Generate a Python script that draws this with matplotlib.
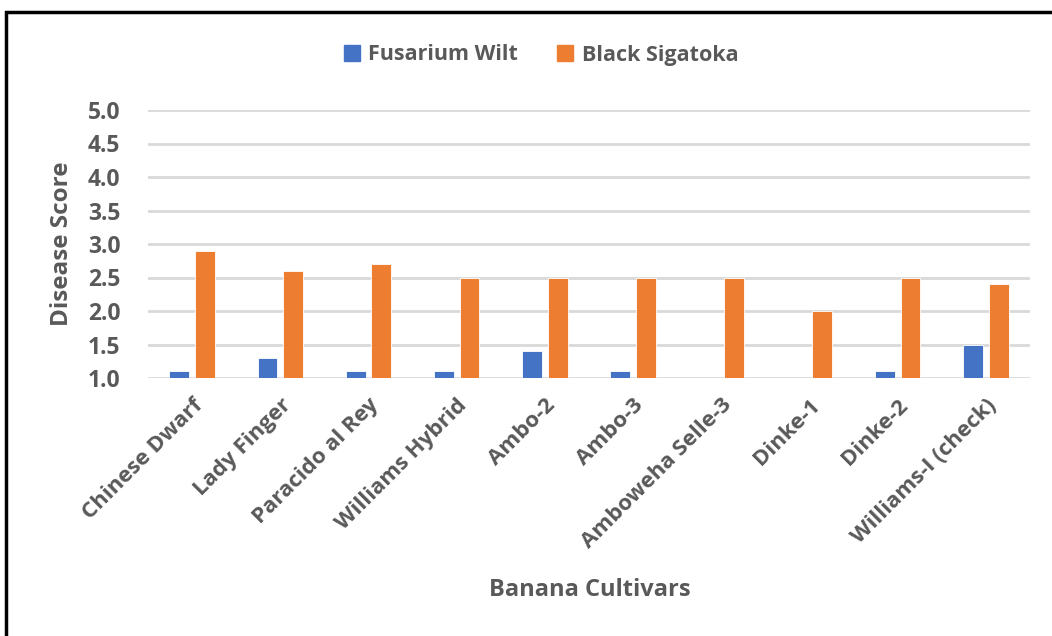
import matplotlib.pyplot as plt
import matplotlib.patches as mpatches
import numpy as np

cultivars = ['Chinese Dwarf', 'Lady Finger', 'Paracido al Rey', 'Williams Hybrid',
             'Ambo-2', 'Ambo-3', 'Amboweha Selle-3', 'Dinke-1', 'Dinke-2',
             'Williams-I (check)']
fusarium_wilt = [1.1, 1.3, 1.1, 1.1, 1.4, 1.1, 1.0, 1.0, 1.1, 1.5]
black_sigatoka = [2.9, 2.6, 2.7, 2.5, 2.5, 2.5, 2.5, 2.0, 2.5, 2.4]
yticks = [1.0, 1.5, 2.0, 2.5, 3.0, 3.5, 4.0, 4.5, 5.0]

BLUE = '#4472c4'
ORANGE = '#ed7d31'
TEXT = '#595959'
GRID = '#d9d9d9'
BASE = 1.0

plt.rcParams['font.family'] = ['Open Sans', 'DejaVu Sans']

fig = plt.figure(figsize=(10.52, 6.36), dpi=100)
W, H = 1052, 636
ax = fig.add_axes([148 / W, 1 - 378 / H, (1030 - 148) / W, (378 - 110) / H])

ind = np.arange(len(cultivars))
width = 0.225
offset = 0.145
ax.bar(ind - offset, np.array(fusarium_wilt) - BASE, width, bottom=BASE,
       color=BLUE, edgecolor='white', linewidth=0.6, zorder=3)
ax.bar(ind + offset, np.array(black_sigatoka) - BASE, width, bottom=BASE,
       color=ORANGE, edgecolor='white', linewidth=0.6, zorder=3)

ax.set_xlim(-0.5, len(cultivars) - 0.5)
ax.set_ylim(1.0, 5.0)
ax.set_yticks(yticks)
ax.set_yticklabels(['%.1f' % v for v in yticks], fontsize=16.5, fontweight='bold',
                   color=TEXT)
ax.yaxis.grid(True, color=GRID, linewidth=2, zorder=0)
ax.set_axisbelow(True)
for s in ax.spines.values():
    s.set_visible(False)
ax.tick_params(axis='both', length=0)
ax.tick_params(axis='y', pad=20)

ax.set_xticks(ind)
ax.set_xticklabels(cultivars, rotation=45, ha='right', va='top',
                   rotation_mode='anchor', fontsize=16, fontweight='bold',
                   color=TEXT)
ax.tick_params(axis='x', pad=12)

ax.set_ylabel('Disease Score', fontsize=17.5, fontweight='bold', color=TEXT,
              labelpad=10)
fig.text(590 / W, 1 - 590 / H, 'Banana Cultivars', fontsize=17,
         fontweight='bold', color=TEXT, ha='center', va='center')

handles = [mpatches.Patch(color=BLUE, label='Fusarium Wilt'),
           mpatches.Patch(color=ORANGE, label='Black Sigatoka')]
leg = fig.legend(handles=handles, loc='center', bbox_to_anchor=(541 / W, 1 - 55 / H),
                 ncol=2, frameon=False, handlelength=0.75, handleheight=0.75,
                 handletextpad=0.4, columnspacing=1.8,
                 prop={'size': 15.5, 'weight': 'bold'})
for t in leg.get_texts():
    t.set_color(TEXT)

# outer frame
fig.patches.append(mpatches.Rectangle((6 / W, -0.05), 1.2, 1 - 12 / H + 0.05,
                                      transform=fig.transFigure, fill=False,
                                      edgecolor='black', linewidth=2.5))

fig.savefig('out.png', dpi=100)
